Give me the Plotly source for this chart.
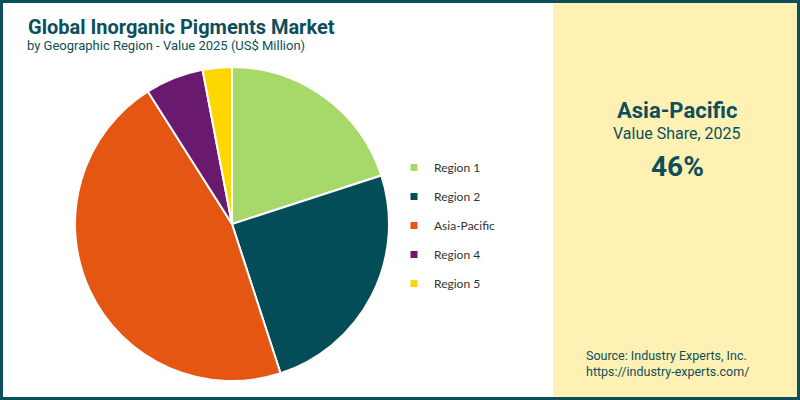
import plotly.graph_objects as go

regions = ["Region 1", "Region 2", "Asia-Pacific", "Region 4", "Region 5"]
values = [20, 25, 46, 6, 3]
colors = ["#A6D96A", "#024D57", "#E55613", "#6A1A6E", "#FFD600"]

TEAL = "#0B4F5C"
W, H = 800, 400

fig = go.Figure()

fig.add_trace(go.Pie(
    labels=regions, values=values, sort=False, direction="clockwise", rotation=0,
    marker=dict(colors=colors, line=dict(color="white", width=2)),
    textinfo="none", hoverinfo="label+percent", showlegend=False,
    domain=dict(x=[(232 - 157) / W, (232 + 157) / W], y=[(176 - 157) / H, (176 + 157) / H]),
))

for i, (r, c) in enumerate(zip(regions, colors)):
    fig.add_trace(go.Scatter(
        x=[None], y=[None], mode="markers", name=r, legendgroup=f"g{i}",
        marker=dict(symbol="square", size=7, color=c), showlegend=True,
    ))

fig.update_layout(
    width=W, height=H, margin=dict(l=0, r=0, t=0, b=0),
    paper_bgcolor="white", plot_bgcolor="rgba(0,0,0,0)",
    xaxis=dict(visible=False, domain=[0.9, 0.91]), yaxis=dict(visible=False, domain=[0.9, 0.91]),
    legend=dict(x=(394) / W, y=(400 - 153) / H, xanchor="left", yanchor="top",
                font=dict(family="Lato", size=12, color="#333333"),
                tracegroupgap=10, itemwidth=30, bgcolor="rgba(0,0,0,0)"),
    shapes=[
        dict(type="rect", xref="paper", yref="paper", x0=553 / W, x1=1, y0=0, y1=1,
             fillcolor="#FEF1B3", line=dict(width=0), layer="below"),
        dict(type="rect", xref="paper", yref="paper", x0=1.5 / W, x1=1 - 1.5 / W,
             y0=1.5 / H, y1=1 - 1.5 / H, line=dict(color=TEAL, width=3), fillcolor="rgba(0,0,0,0)"),
    ],
    annotations=[
        dict(text="<b>Global Inorganic Pigments Market</b>", x=26 / W, y=1 - 13 / H, xref="paper", yref="paper",
             xanchor="left", yanchor="top", showarrow=False,
             font=dict(family="Roboto", size=20, color=TEAL)),
        dict(text="by Geographic Region - Value 2025 (US$ Million)", x=25 / W, y=1 - 36 / H, xref="paper", yref="paper",
             xanchor="left", yanchor="top", showarrow=False,
             font=dict(family="Roboto", size=13, color=TEAL)),
        dict(text="<b>Asia-Pacific</b>", x=677 / W, y=1 - 110 / H, xref="paper", yref="paper",
             xanchor="center", yanchor="middle", showarrow=False,
             font=dict(family="Roboto", size=22, color=TEAL)),
        dict(text="Value Share, 2025", x=677 / W, y=1 - 133 / H, xref="paper", yref="paper",
             xanchor="center", yanchor="middle", showarrow=False,
             font=dict(family="Roboto", size=16, color=TEAL)),
        dict(text="<b>46%</b>", x=677 / W, y=1 - 166 / H, xref="paper", yref="paper",
             xanchor="center", yanchor="middle", showarrow=False,
             font=dict(family="Roboto", size=28, color=TEAL)),
        dict(text="Source: Industry Experts, Inc.<br>https://industry-experts.com/", x=584 / W, y=1 - 346 / H,
             xref="paper", yref="paper", xanchor="left", yanchor="top", align="left", showarrow=False,
             font=dict(family="Roboto", size=12.5, color=TEAL)),
    ],
)

fig.write_html("out.html")
